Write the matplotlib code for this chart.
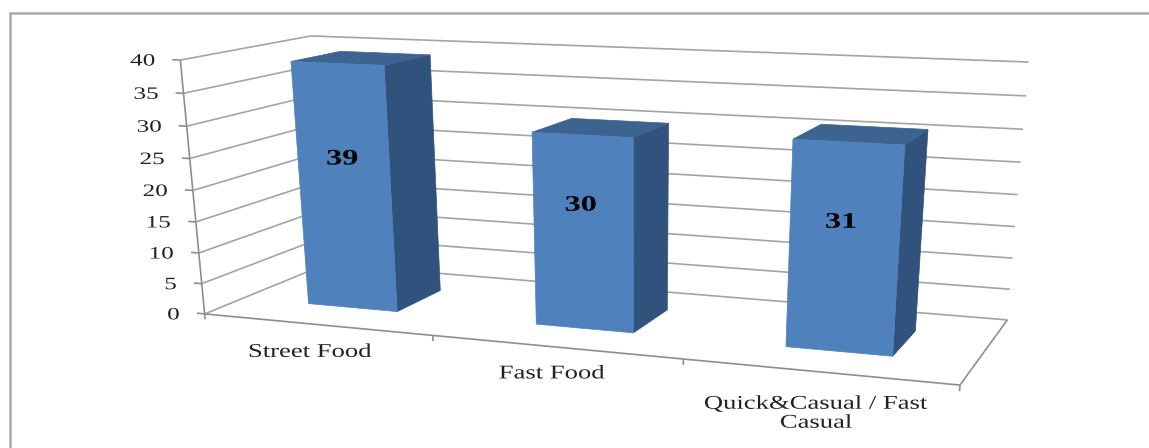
import numpy as np
import matplotlib
matplotlib.use("Agg")
import matplotlib.pyplot as plt
from matplotlib.patches import Polygon
from matplotlib.patheffects import AbstractPathEffect
from matplotlib.transforms import Affine2D

categories = ["Street Food", "Fast Food", "Quick&Casual / Fast\nCasual"]
values = [39, 30, 31]
y_ticks = [0, 5, 10, 15, 20, 25, 30, 35, 40]

# Chart box corners: (category, depth, value) -> pixel position
box_model = [
    (0, 0, 0), (3, 0, 0), (0, 0, 40),
    (0, 1, 0), (3, 1, 0), (0, 1, 40), (3, 1, 40),
]
box_pixels = [
    (203, 314), (960, 385), (182, 60),
    (328, 264), (1007, 320), (309, 36), (1029, 62),
]

BAR_FROM, BAR_TO = 0.3, 0.7
DEPTH_FROM, DEPTH_TO = 0.3, 0.7

# Label nudges in pixels, the category labels sit unevenly under the floor edge
value_dy = [-26, -26, -24]
cat_dx = [-5, -2, -1]
cat_dy = [28, 27, 42]

GRID = "#a4a4a4"
EDGE = "#8e8e8e"
TEXT = "#222222"
FRONT = "#4f81bd"
TOP = "#3d6390"
SIDE = "#30527c"
SERIF = "Liberation Serif"


def fit_camera(model, pixels):
    rows = []
    for (x, y, z), (u, v) in zip(model, pixels):
        rows.append([x, y, z, 1, 0, 0, 0, 0, -u * x, -u * y, -u * z, -u])
        rows.append([0, 0, 0, 0, x, y, z, 1, -v * x, -v * y, -v * z, -v])
    _, _, vt = np.linalg.svd(np.array(rows, dtype=float))
    return vt[-1].reshape(3, 4)


camera = fit_camera(box_model, box_pixels)


def project(x, y, z):
    p = camera @ np.array([x, y, z, 1.0])
    return p[0] / p[2], p[1] / p[2]


class StretchX(AbstractPathEffect):
    # Widens a text horizontally around its anchor
    def __init__(self, factor, anchor_x):
        super().__init__()
        self.factor = factor
        self.anchor_x = anchor_x

    def draw_path(self, renderer, gc, tpath, affine, rgbFace=None):
        stretch = Affine2D().translate(-self.anchor_x, 0).scale(self.factor, 1).translate(self.anchor_x, 0)
        renderer.draw_path(gc, tpath, affine + stretch, rgbFace)


def label(x, y, s, size, factor, ha="center", weight="normal", color=TEXT, zorder=5):
    ax.text(x, y, s, fontsize=size, family=SERIF, ha=ha, va="center", weight=weight,
            color=color, linespacing=1.15, zorder=zorder, path_effects=[StretchX(factor, x)])


def seg(a, b, color=GRID, lw=1.2):
    ax.plot([a[0], b[0]], [a[1], b[1]], color=color, lw=lw, solid_capstyle="butt")


fig = plt.figure(figsize=(11.49, 4.48), dpi=100)
ax = fig.add_axes([0, 0, 1, 1])
ax.set_xlim(0, 1149)
ax.set_ylim(448, 0)
ax.axis("off")

# Chart area frame, only the top and left edges are inside the canvas
seg((10, 448), (10, 13), color="#a9a9a9", lw=1.8)
seg((9, 13), (1149, 13), color="#a9a9a9", lw=1.8)

# Walls
for v in y_ticks:
    seg(project(0, 0, v), project(0, 1, v))
    seg(project(0, 1, v), project(3, 1, v))
    seg(project(-0.035, 0, v), project(0, 0, v), color=EDGE)
    ax_x, ax_y = project(0, 0, v)
    label(ax_x - 25, ax_y + 1.5, str(v), 12.5, 1.45, ha="right")
seg(project(0, 0, 0), project(0, 0, 40), color=EDGE)

# Floor
seg(project(0, 0, 0), project(3, 0, 0), color=EDGE)
seg(project(3, 0, 0), project(3, 1, 0), color=EDGE)
for i in range(4):
    seg(project(i, 0, 0), project(i, 0, -0.9), color=EDGE)

# Bars
for i, val in enumerate(values):
    x0, x1 = i + BAR_FROM, i + BAR_TO
    d0, d1 = DEPTH_FROM, DEPTH_TO
    front = [project(x0, d0, 0), project(x1, d0, 0), project(x1, d0, val), project(x0, d0, val)]
    side = [project(x1, d0, 0), project(x1, d1, 0), project(x1, d1, val), project(x1, d0, val)]
    top = [project(x0, d0, val), project(x1, d0, val), project(x1, d1, val), project(x0, d1, val)]
    ax.add_patch(Polygon(side, closed=True, fc=SIDE, ec=SIDE, lw=0.5, zorder=3))
    ax.add_patch(Polygon(top, closed=True, fc=TOP, ec=TOP, lw=0.5, zorder=3))
    ax.add_patch(Polygon(front, closed=True, fc=FRONT, ec=FRONT, lw=0.5, zorder=3))
    cx = sum(p[0] for p in front) / 4
    cy = sum(p[1] for p in front) / 4
    label(cx - 3, cy + value_dy[i], str(val), 16, 1.45, weight="bold", color="black")

# Category labels under the front edge
for i, name in enumerate(categories):
    fx, fy = project(i + 0.5, 0, 0)
    label(fx + cat_dx[i] - 1, fy + cat_dy[i], name, 14, 1.37)

plt.savefig("out.png", dpi=100)
plt.close()
